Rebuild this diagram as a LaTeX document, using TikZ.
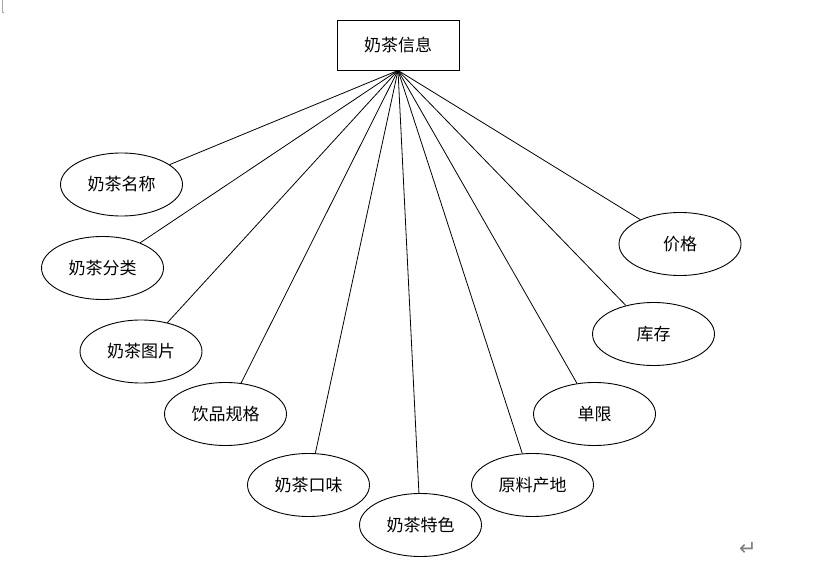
\documentclass[tikz,border=0pt]{standalone}
\usepackage{fontspec}
\newfontfamily\cjk{Noto Sans CJK SC}
\newfontfamily\symfont{DejaVu Sans}
\usetikzlibrary{shapes.geometric}
\tikzset{
  entity/.style={draw,line width=0.9pt,minimum width=122pt,minimum height=50pt,inner sep=0pt,font=\cjk\fontsize{17}{17}\selectfont},
  attr/.style={ellipse,draw,line width=0.9pt,minimum width=122pt,minimum height=63pt,inner sep=0pt,font=\cjk\fontsize{17}{17}\selectfont}
}

\begin{document}
\begin{tikzpicture}[x=1pt,y=-1pt]
\useasboundingbox (0,0) rectangle (819,564);
\node[entity] (info) at (398,45) {奶茶信息};
\coordinate (hub) at (info.south);
\node[attr] (name) at (121.5,184.5) {奶茶名称};
\node[attr] (kind) at (102.5,268) {奶茶分类};
\node[attr] (pic) at (141,351.5) {奶茶图片};
\node[attr] (spec) at (225.5,414) {饮品规格};
\node[attr] (taste) at (308.5,485) {奶茶口味};
\node[attr] (feat) at (420.5,525) {奶茶特色};
\node[attr] (origin) at (532.5,485) {原料产地};
\node[attr] (limit) at (594.5,414) {单限};
\node[attr] (stock) at (653.5,334) {库存};
\node[attr] (price) at (680,244) {价格};
\foreach \a in {name,kind,pic,spec,taste,feat,origin,limit,stock,price}
  \draw[line width=0.8pt] (hub) -- (\a);
% page marks
\draw[gray!70,line width=0.8pt] (2,0) -- (2,12) -- (4,12);
\node[gray,inner sep=0pt,font=\symfont\fontsize{21}{21}\selectfont] (ret) at (748,549) {↵};
\end{tikzpicture}
\end{document}
